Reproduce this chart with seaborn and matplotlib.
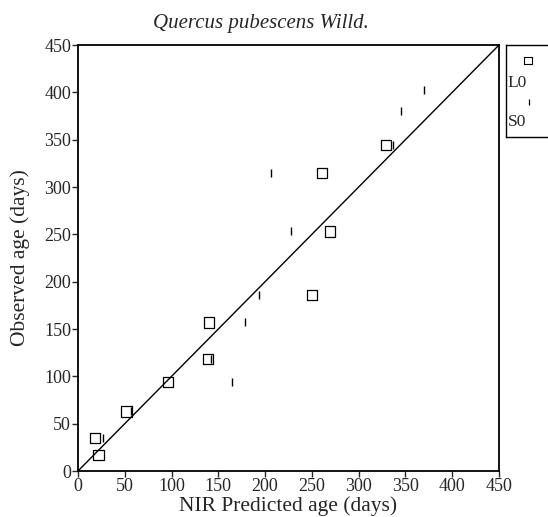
# NIR predicted vs observed age, Quercus pubescens (L0 / S0 samples)

import matplotlib
matplotlib.use("Agg")
import matplotlib.pyplot as plt
import seaborn as sns

# L0 samples (open squares)
l0_pred = [18, 22, 52, 96, 139, 140, 250, 269, 261, 329]
l0_obs  = [35, 17, 63, 94, 118, 157, 186, 253, 315, 344]

# S0 samples (small vertical ticks)
s0_pred = [27, 57, 142, 165, 178, 193, 228, 206, 337, 345, 370]
s0_obs  = [35, 63, 118, 94, 157, 186, 253, 315, 344, 380, 402]

TICKS = list(range(0, 451, 50))

sns.set_style("ticks")
plt.rcParams["font.family"] = ["Liberation Serif", "DejaVu Serif"]

fig = plt.figure(figsize=(5.48, 5.17), dpi=100)
ax = fig.add_axes([78 / 548, 46 / 517, 421 / 548, 426 / 517])

# 1:1 line
ax.plot([0, 450], [0, 450], color="black", lw=1.0, zorder=1)

sns.scatterplot(x=l0_pred, y=l0_obs, marker="s", s=55, facecolor="none",
                edgecolor="black", linewidth=0.9, ax=ax, zorder=3)
sns.scatterplot(x=s0_pred, y=s0_obs, marker="|", s=30, color="black",
                linewidth=1.0, ax=ax, zorder=3)

ax.set_xlim(0, 450)
ax.set_ylim(0, 450)
ax.set_xticks(TICKS)
ax.set_yticks(TICKS)
ax.tick_params(direction="out", length=4, width=1, labelsize=13, pad=1)
for sp in ax.spines.values():
    sp.set_visible(True)
    sp.set_linewidth(1.3)
    sp.set_color("black")

ax.set_xlabel("NIR Predicted age (days)", fontsize=15.5, labelpad=1)
ax.set_ylabel("Observed age (days)", fontsize=15.5, labelpad=10)
ax.set_title("Quercus pubescens Willd.", fontsize=15, style="italic",
             pad=12, x=0.435)

# legend box outside right edge, marker stacked above label
lax = fig.add_axes([506 / 548, (517 - 137) / 517, 50 / 548, 92 / 517])
lax.set_xlim(0, 1)
lax.set_ylim(0, 1)
lax.set_xticks([])
lax.set_yticks([])
for sp in lax.spines.values():
    sp.set_linewidth(1.0)
    sp.set_color("black")
lax.scatter([0.44], [0.83], marker="s", s=28, facecolor="none",
            edgecolor="black", linewidth=0.8)
lax.text(0.03, 0.59, "L0", fontsize=12.5, ha="left", va="center")
lax.scatter([0.46], [0.38], marker="|", s=22, color="black", linewidth=0.9)
lax.text(0.03, 0.16, "S0", fontsize=12.5, ha="left", va="center")

fig.savefig("out.png", dpi=100)
